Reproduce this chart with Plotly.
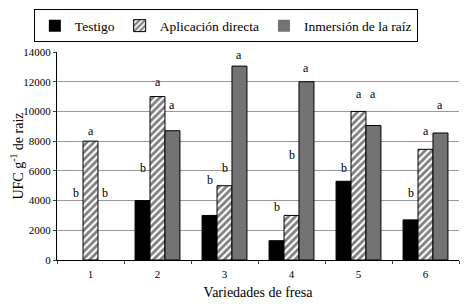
import plotly.graph_objects as go

categories = ["1", "2", "3", "4", "5", "6"]
testigo = [0, 4000, 3000, 1300, 5300, 2700]
aplicacion = [8000, 11000, 5000, 3000, 10000, 7450]
inmersion = [0, 8700, 13050, 12000, 9050, 8550]

# significance letters per series and their heights
letters_t = ["b", "b", "b", "b", "b", "b"]
letters_a = ["a", "a", "b", "b", "a", "a"]
letters_i = ["b", "a", "a", "a", "a", "a"]
ly_t = [4500, 6200, 5400, 3600, 6200, 4500]
ly_a = [8700, 12000, 6200, 7100, 11200, 8700]
ly_i = [4500, 10400, 13800, 12900, 11200, 10400]

FONT = "Liberation Serif"
BARGAP = 0.33


def outline(vals):
    return [0 if v == 0 else 1 for v in vals]


fig = go.Figure()
fig.add_trace(go.Bar(name="Testigo", x=categories, y=testigo,
                     marker=dict(color="black", line=dict(color="black", width=outline(testigo)))))
fig.add_trace(go.Bar(name="Aplicación directa", x=categories, y=aplicacion,
                     marker=dict(color="white", line=dict(color="black", width=outline(aplicacion)),
                                 pattern=dict(shape="/", fgcolor="black", bgcolor="white",
                                              size=5, solidity=0.55))))
fig.add_trace(go.Bar(name="Inmersión de la raíz", x=categories, y=inmersion,
                     marker=dict(color="#737373", line=dict(color="black", width=outline(inmersion)))))

bw = (1 - BARGAP) / 3
for k, (lets, ys) in enumerate([(letters_t, ly_t), (letters_a, ly_a), (letters_i, ly_i)]):
    for i, (lt, yv) in enumerate(zip(lets, ys)):
        fig.add_annotation(x=i + (k - 1) * bw, y=yv, text=lt, showarrow=False,
                           xref="x", yref="y",
                           font=dict(family=FONT, size=12, color="black"))

# page body adds an 8px offset, so the figure is 8px smaller with 8px less margin
fig.update_layout(
    width=461, height=296, autosize=False,
    margin=dict(l=49, r=10, t=44, b=44, autoexpand=False),
    paper_bgcolor="white", plot_bgcolor="white",
    barmode="group", bargap=BARGAP, bargroupgap=0,
    font=dict(family=FONT, color="black", size=11),
    legend=dict(orientation="h", x=0.42, xanchor="center", y=1.205, yanchor="top",
                bordercolor="black", borderwidth=1,
                font=dict(family=FONT, size=13.5), itemwidth=30,
                tracegroupgap=0),
    showlegend=True,
)
fig.update_xaxes(type="category", tickson="boundaries", ticks="outside", ticklen=3,
                 ticklabelstandoff=4,
                 showline=True, linecolor="black", linewidth=1, automargin=False,
                 title=dict(text="Variedades de fresa", font=dict(size=14, family=FONT), standoff=7),
                 tickfont=dict(size=11, family=FONT))
fig.update_yaxes(range=[0, 14000], dtick=2000, tickformat="d", showgrid=True,
                 gridcolor="#9a9a9a", gridwidth=1, automargin=False,
                 showline=True, linecolor="black", linewidth=1, ticks="outside", ticklen=3,
                 zeroline=False,
                 title=dict(text="UFC g<sup>-1</sup> de raiz", font=dict(size=14, family=FONT), standoff=4),
                 tickfont=dict(size=11, family=FONT))

fig.write_html("out.html")
